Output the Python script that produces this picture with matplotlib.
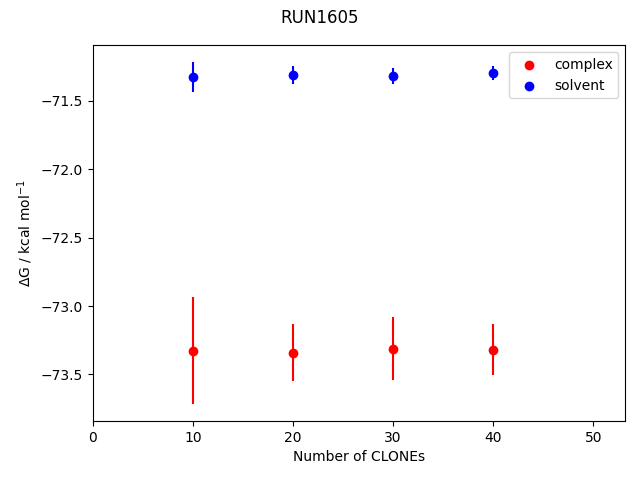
import matplotlib
matplotlib.use("Agg")
import matplotlib.pyplot as plt

# datos
clones = [10, 20, 30, 40]
complex_dg = [-73.325, -73.34, -73.312, -73.318]
complex_err = [0.39, 0.207, 0.23, 0.185]
solvent_dg = [-71.327, -71.31, -71.317, -71.298]
solvent_err = [0.11, 0.065, 0.06, 0.05]

fig, ax = plt.subplots(figsize=(6.4, 4.8), dpi=100)

ax.errorbar(clones, complex_dg, yerr=complex_err, fmt='none', ecolor='red')
ax.scatter(clones, complex_dg, color='red', label='complex', zorder=3)
ax.errorbar(clones, solvent_dg, yerr=solvent_err, fmt='none', ecolor='blue')
ax.scatter(clones, solvent_dg, color='blue', label='solvent', zorder=3)

ax.set_xlim(0, 53.2)
ax.set_xlabel('Number of CLONEs')
ax.set_ylabel(r'$\Delta$G / kcal mol$^{-1}$')
ax.legend(loc='upper right')
fig.suptitle('RUN1605', y=0.982)

fig.subplots_adjust(left=0.145, right=0.977, top=0.906, bottom=0.123)
plt.savefig('out.png')
